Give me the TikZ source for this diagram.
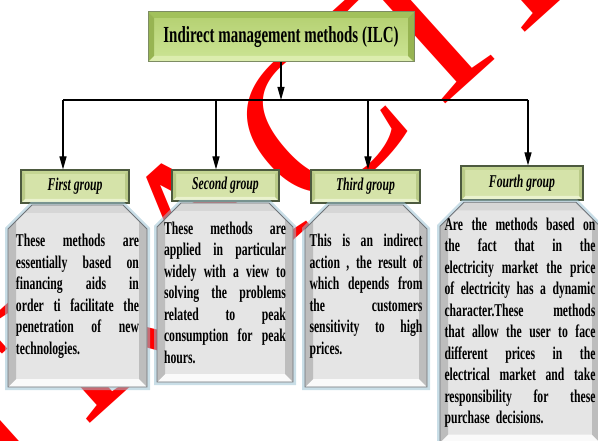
\documentclass[tikz,border=0pt]{standalone}
\usepackage{fontspec}
\setmainfont{Liberation Serif}
\newfontfamily\narrowfont{Liberation Serif}[FakeStretch=0.65]
\newfontfamily\stampfont{Liberation Serif}
\usepackage{tikz}
\usetikzlibrary{positioning, arrows.meta, shapes.misc}
\usepackage{xcolor}

% one justified line of a text box
\def\jlw{100pt}
\newcommand\jl[1]{\makebox[\jlw][s]{\spaceskip=.25em plus 1fil minus .05em\relax #1}\\}

\definecolor{ilcline}{HTML}{7D8C63}
\definecolor{ilcfacetop}{HTML}{B3CF6F}
\definecolor{ilcfacebot}{HTML}{CDE596}
\definecolor{ilctop}{HTML}{A2C15B}
\definecolor{ilcbot}{HTML}{DCEDAE}
\definecolor{ilcside}{HTML}{97B452}
\definecolor{grpline}{HTML}{4D5A3F}
\definecolor{grpface}{HTML}{D5E3A9}
\definecolor{grptop}{HTML}{C4D593}
\definecolor{grpbot}{HTML}{EAF2CE}
\definecolor{grpside}{HTML}{B9CA87}
\definecolor{bodyline}{HTML}{6E7378}
\definecolor{bodyface}{HTML}{E5E5E5}
\definecolor{bodytop}{HTML}{D6D6D6}
\definecolor{bodybot}{HTML}{FAFAFA}
\definecolor{bodyside}{HTML}{BDBDBD}
\definecolor{glow}{HTML}{9CC2D3}

\tikzset{
  bevel/.style n args={5}{
    path picture={
      \coordinate (bvSW) at (path picture bounding box.south west);
      \coordinate (bvNE) at (path picture bounding box.north east);
      \coordinate (bvNW) at (bvSW |- bvNE);
      \coordinate (bvSE) at (bvSW -| bvNE);
      \fill[#2] (bvNW) -- (bvNE) -- ([shift={(-#1,-#1)}]bvNE) -- ([shift={(#1,-#1)}]bvNW) -- cycle;
      \fill[#3] (bvSW) -- (bvSE) -- ([shift={(-#1,#1)}]bvSE) -- ([shift={(#1,#1)}]bvSW) -- cycle;
      \fill[#4] (bvSW) -- (bvNW) -- ([shift={(#1,-#1)}]bvNW) -- ([shift={(#1,#1)}]bvSW) -- cycle;
      \fill[#5] (bvSE) -- (bvNE) -- ([shift={(-#1,-#1)}]bvNE) -- ([shift={(-#1,#1)}]bvSE) -- cycle;
    }},
  ilcbox/.style={draw=ilcline, line width=1pt, top color=ilcfacetop, bottom color=ilcfacebot,
    minimum width=266pt, minimum height=50pt, inner sep=0pt,
    font=\narrowfont\bfseries\fontsize{23}{26}\selectfont,
    bevel={6pt}{ilctop}{ilcbot}{ilcside}{ilcside}},
  groupbox/.style={draw=grpline, line width=1.2pt, fill=grpface, inner sep=0pt,
    font=\narrowfont\bfseries\itshape\fontsize{18}{20}\selectfont,
    bevel={4pt}{grptop}{grpbot}{grpside}{grpside}},
  bodybox/.style={chamfered rectangle, chamfered rectangle corners={north west,north east},
    chamfered rectangle xsep=12pt, chamfered rectangle ysep=12pt,
    draw=bodyline, line width=.8pt, fill=bodyface,
    preaction={draw=glow, line width=6pt, opacity=.55},
    font=\narrowfont\bfseries\fontsize{18}{21.5}\selectfont,
    bevel={8pt}{bodytop}{bodybot}{bodyside}{bodyside}},
  bodytext/.style={text width=#1, /utils/exec={\def\jlw{#1}}},
  stamp/.style={text=red, inner sep=0pt, font=\stampfont\fontsize{220}{220}\selectfont},
  arrow/.style={draw=black, line width=1.2pt, -{Triangle[length=13pt,width=7pt]}},
  bus/.style={draw=black, line width=1.2pt},
}

\begin{document}
\begin{tikzpicture}[x=1pt, y=-1pt]
  \useasboundingbox (0,0) rectangle (598,441);

  % stamp across the page
  \node[stamp, rotate=42] (retracted) at (209,220) {RETRACTED};

  \node[ilcbox] (ilc) at (281,37) {Indirect management methods (ILC)};

  \node[groupbox, minimum width=108pt, minimum height=33pt] (g1) at (75,186.5) {First group};
  \node[groupbox, minimum width=107pt, minimum height=31pt] (g2) at (225.5,185.5) {Second group};
  \node[groupbox, minimum width=109pt, minimum height=33pt] (g3) at (365.5,186.5) {Third group};
  \node[groupbox, minimum width=122pt, minimum height=34pt] (g4) at (522,183) {Fourth group};

  \node[bodybox, bodytext=123pt, inner xsep=-4pt, minimum height=182pt] (b1) at (77.5,296)
    {\jl{These methods are}\jl{essentially based on}\jl{financing aids in}
     \jl{order ti facilitate the}\jl{penetration of new}technologies.};
  \node[bodybox, bodytext=122pt, inner xsep=-5pt, minimum height=179pt] (b2) at (225,292.5)
    {\jl{These methods are}\jl{applied in particular}\jl{widely with a view to}
     \jl{solving the problems}\jl{related to peak}\jl{consumption for peak}hours.};
  \node[bodybox, bodytext=113pt, inner xsep=-7.5pt, minimum height=182pt] (b3) at (366,296)
    {\jl{This is an indirect}\jl{action , the result of}\jl{which depends from}
     \jl{the customers}\jl{sensitivity to high}prices.};
  \node[bodybox, bodytext=151pt, inner xsep=-7.5pt, minimum height=239pt] (b4) at (520,322.5)
    {\jl{Are the methods based on}\jl{the fact that in the}\jl{electricity market the price}
     \jl{of electricity has a dynamic}\jl{character.These methods}\jl{that allow the user to face}
     \jl{different prices in the}\jl{electrical market and take}\jl{responsibility for these}
     purchase decisions.};

  \coordinate (hub) at (281,100);
  \coordinate (j1) at (63,100);
  \coordinate (j2) at (216,100);
  \coordinate (j3) at (368,100);
  \coordinate (j4) at (528,100);

  \draw[arrow] (ilc) -- (hub);
  \draw[bus] (j1) -- (j4);
  \draw[arrow] (j1) -- (j1 |- g1.north);
  \draw[arrow] (j2) -- (j2 |- g2.north);
  \draw[arrow] (j3) -- (j3 |- g3.north);
  \draw[arrow] (j4) -- (j4 |- g4.north);
\end{tikzpicture}
\end{document}
